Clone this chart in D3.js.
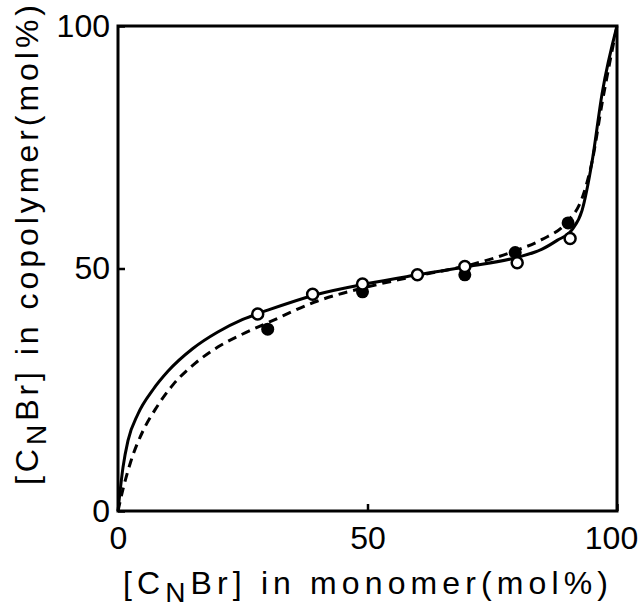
<!DOCTYPE html>
<html>
<head>
<meta charset="utf-8">
<script src="https://cdn.jsdelivr.net/npm/d3@7"></script>
<style>
  body { margin: 0; background: #fff; }
  text { font-family: "Liberation Sans", Arial, sans-serif; fill: #000; }
</style>
</head>
<body>
<div id="chart"></div>
<script>
// ---------- data
const openX = [28, 39, 49, 60, 69.5, 80, 90.6]
const openY = [40.6, 44.7, 46.8, 48.7, 50.4, 51.2, 56.2]

const filledX = [30, 49, 69.5, 79.6, 90.2]
const filledY = [37.5, 45.2, 48.7, 53.3, 59.4]

// solid curve
const solidX = [0, 1, 2, 4, 7, 10, 15, 20, 25, 30, 40, 50, 60, 70, 80, 85, 88, 91, 93, 95, 97, 100]
const solidY = [0, 9, 14.5, 20, 25, 28.8, 33.5, 36.9, 39.5, 41.4, 44.7, 46.9, 48.7, 50.4, 52.3, 54, 55.8, 58, 62, 72, 86, 100]

// dashed curve
const dashX = [0, 1, 2.5, 5, 7.5, 11, 15.5, 20, 25, 30, 40, 50, 60, 70, 80, 85, 90, 93, 95, 97, 100]
const dashY = [0, 4.5, 10, 16.5, 21, 26, 30.5, 33.8, 36.5, 38.8, 43.3, 46.2, 48.5, 50.6, 53.8, 56, 59.6, 64.5, 72, 84, 100]

const tickVals = [0, 50, 100]

// ---------- dimensions
const dimensions = {
    width: 642,
    height: 609,
    margin: { top: 26, right: 25, bottom: 98, left: 118 }
}
dimensions.boundedWidth = dimensions.width - dimensions.margin.left - dimensions.margin.right
dimensions.boundedHeight = dimensions.height - dimensions.margin.top - dimensions.margin.bottom

const wrapper = d3.select("#chart")
    .append("svg")
    .attr("width", dimensions.width)
    .attr("height", dimensions.height)

wrapper.append("rect")
    .attr("width", dimensions.width)
    .attr("height", dimensions.height)
    .attr("fill", "#fff")

const bounds = wrapper.append("g")
    .attr("transform", `translate(${dimensions.margin.left},${dimensions.margin.top})`)

// ---------- scales
const xScale = d3.scaleLinear()
    .domain([0, 100])
    .range([0, dimensions.boundedWidth])

const yScale = d3.scaleLinear()
    .domain([0, 100])
    .range([dimensions.boundedHeight, 0])

// ---------- axes
const yAxisGenerator = d3.axisLeft(yScale)
    .tickValues(tickVals)
    .tickSizeInner(-7)
    .tickSizeOuter(0)
    .tickPadding(8)

const xAxisGenerator = d3.axisBottom(xScale)
    .tickValues(tickVals)
    .tickSizeInner(-7)
    .tickSizeOuter(0)
    .tickPadding(15)

const yAxis = bounds.append("g").call(yAxisGenerator)
const xAxis = bounds.append("g")
    .attr("transform", `translate(0,${dimensions.boundedHeight})`)
    .call(xAxisGenerator)

;[xAxis, yAxis].forEach(ax => {
    ax.select(".domain").remove()
    ax.selectAll(".tick line").attr("stroke", "#000").attr("stroke-width", 2.5)
    ax.selectAll(".tick text")
        .attr("font-size", 32)
        .attr("font-family", "Liberation Sans, Arial, sans-serif")
        .attr("fill", "#000")
})
// last x label sits a little left so it stays in the window
xAxis.selectAll(".tick text").filter(d => d === 100).attr("dx", -6)

// frame
bounds.append("rect")
    .attr("width", dimensions.boundedWidth)
    .attr("height", dimensions.boundedHeight)
    .attr("fill", "none")
    .attr("stroke", "#000")
    .attr("stroke-width", 3)

// ---------- lines
const lineGenerator = d3.line()
    .x(d => xScale(d[0]))
    .y(d => yScale(d[1]))
    .curve(d3.curveMonotoneX)

const solidData = solidX.map((x, i) => [x, solidY[i]])
const dashData = dashX.map((x, i) => [x, dashY[i]])

bounds.append("path")
    .attr("d", lineGenerator(solidData))
    .attr("fill", "none")
    .attr("stroke", "#000")
    .attr("stroke-width", 3)

bounds.append("path")
    .attr("d", lineGenerator(dashData))
    .attr("fill", "none")
    .attr("stroke", "#000")
    .attr("stroke-width", 3)
    .attr("stroke-dasharray", "9,6")

// ---------- points
bounds.selectAll(".filled")
    .data(filledX.map((x, i) => [x, filledY[i]]))
    .join("circle")
    .attr("class", "filled")
    .attr("cx", d => xScale(d[0]))
    .attr("cy", d => yScale(d[1]))
    .attr("r", 6.5)
    .attr("fill", "#000")

bounds.selectAll(".open")
    .data(openX.map((x, i) => [x, openY[i]]))
    .join("circle")
    .attr("class", "open")
    .attr("cx", d => xScale(d[0]))
    .attr("cy", d => yScale(d[1]))
    .attr("r", 5.5)
    .attr("fill", "#fff")
    .attr("stroke", "#000")
    .attr("stroke-width", 2.5)

// ---------- axis titles
const xTitle = wrapper.append("text")
    .attr("x", 123)
    .attr("y", 594)
    .attr("font-size", 32)
    .attr("textLength", 485)
    .attr("lengthAdjust", "spacing")
xTitle.append("tspan").text("[C")
xTitle.append("tspan").attr("dy", 8).attr("font-size", 28).text("N")
xTitle.append("tspan").attr("dy", -8).text("Br] in monomer(mol%)")

const yTitle = wrapper.append("text")
    .attr("transform", "translate(38,485) rotate(-90)")
    .attr("font-size", 32)
    .attr("textLength", 480)
    .attr("lengthAdjust", "spacing")
yTitle.append("tspan").text("[C")
yTitle.append("tspan").attr("dy", 8).attr("font-size", 28).text("N")
yTitle.append("tspan").attr("dy", -8).text("Br] in copolymer(mol%)")
</script>
</body>
</html>
